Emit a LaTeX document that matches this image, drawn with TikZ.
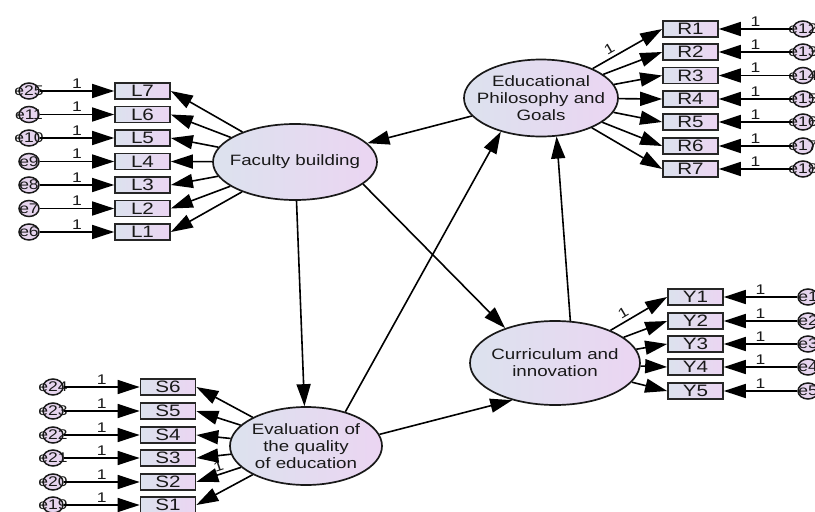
\documentclass[tikz,border=0pt]{standalone}
\usepackage{fontspec}
\setmainfont[FakeStretch=1.25]{Liberation Sans}
\usetikzlibrary{shapes.geometric,arrows.meta}

\definecolor{lblue}{HTML}{DCE2EE}
\definecolor{lpink}{HTML}{EBD5F2}
\definecolor{ecol}{HTML}{E6D5EE}

\begin{document}
\begin{tikzpicture}[x=1pt,y=-1pt,
    latent/.style={ellipse,draw=black!90,line width=1.7pt,left color=lblue,right color=lpink},
    lattext/.style={align=center,inner sep=0pt,text=black!90,font=\fontsize{15}{17}\selectfont},
    obs/.style={rectangle,draw=black!85,line width=1.7pt,left color=lblue,right color=lpink,
        minimum width=55pt,minimum height=16pt,inner sep=0pt,text=black!90,font=\fontsize{16.5}{15}\selectfont},
    err/.style={ellipse,draw=black!90,line width=1.5pt,fill=ecol,minimum width=20pt,minimum height=16pt,inner sep=0pt},
    errtext/.style={inner sep=0pt,text=black!90,font=\fontsize{14}{14}\selectfont},
    one/.style={inner sep=1pt,text=black!90,font=\fontsize{14}{13}\selectfont},
    path/.style={line width=1.6pt,-{Triangle[length=22pt,width=14pt]}}]
\useasboundingbox (0,0) rectangle (815,512);

% latent variables
\node[latent,minimum width=164pt,minimum height=76pt,label={[lattext]center:Faculty building}] (fac) at (295,162) {};
\node[latent,minimum width=154pt,minimum height=77pt,label={[lattext]center:Educational\\Philosophy and\\Goals}] (phil) at (541,98) {};
\node[latent,minimum width=170pt,minimum height=84pt,label={[lattext]center:Curriculum and\\innovation}] (cur) at (555,363) {};
\node[latent,minimum width=152pt,minimum height=78pt,label={[lattext]center:Evaluation of\\the quality\\of education}] (eva) at (306,446) {};

% indicators
\foreach \i/\y/\e in {7/91/25,6/114.5/11,5/138/10,4/161.5/9,3/185/8,2/208.5/7,1/232/6}{
    \node[obs] (L\i) at (142.5,\y) {L\i};
    \node[err,label={[errtext]center:e\e}] (eL\i) at (29,\y) {};
    \draw[path] (eL\i) -- node[one,above=1pt] (oL\i) {1} (L\i);
    \draw[path] (fac) -- (L\i.east);
}
\foreach \i/\y/\e in {1/29/12,2/52/13,3/75.5/14,4/99/15,5/122/16,6/146/17,7/169/18}{
    \node[obs] (R\i) at (690.5,\y) {R\i};
    \node[err,label={[errtext]center:e\e}] (eR\i) at (803,\y) {};
    \draw[path] (eR\i) -- node[one,above=1pt] (oR\i) {1} (R\i);
}
\foreach \i/\y in {1/297,2/321,3/344,4/367,5/391}{
    \node[obs] (Y\i) at (695.5,\y) {Y\i};
    \node[err,label={[errtext]center:e\i}] (eY\i) at (808,\y) {};
    \draw[path] (eY\i) -- node[one,above=1pt] (oY\i) {1} (Y\i);
}
\foreach \i/\y/\e in {6/387/24,5/411/23,4/435/22,3/458/21,2/482/20,1/505/19}{
    \node[obs] (S\i) at (168,\y) {S\i};
    \node[err,label={[errtext]center:e\e}] (eS\i) at (53,\y) {};
    \draw[path] (eS\i) -- node[one,above=1pt] (oS\i) {1} (S\i);
}

% loadings
\draw[path] (phil) -- node[one,pos=0.3,sloped,above=2pt] (lR) {1} (R1.west);
\foreach \i in {2,...,7} \draw[path] (phil) -- (R\i.west);
\draw[path] (cur) -- node[one,pos=0.3,sloped,above=2pt] (lY) {1} (Y1.west);
\foreach \i in {2,...,5} \draw[path] (cur) -- (Y\i.west);
\draw[path] (eva) -- node[one,pos=0.45,sloped,above=1pt] (lS) {1} (S2.east);
\foreach \i in {1,3,4,5,6} \draw[path] (eva) -- (S\i.east);

% structural paths
\draw[path] (phil) -- (fac);
\draw[path] (fac) -- (eva);
\draw[path] (fac.-18) -- (cur.145);
\draw[path] (eva.41) -- (phil.-140);
\draw[path] (eva.9) -- (cur.-139);
\draw[path] (cur.70) -- (phil.-68);
\end{tikzpicture}
\end{document}
